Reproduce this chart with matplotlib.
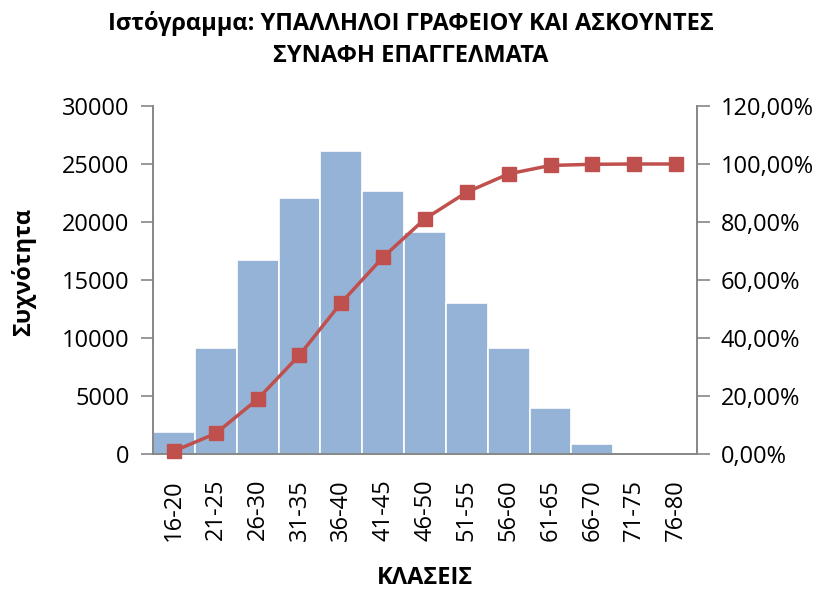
import matplotlib
matplotlib.use("Agg")
import matplotlib.pyplot as plt
from matplotlib.ticker import FuncFormatter

plt.rcParams['font.family'] = ['Open Sans', 'DejaVu Sans']

# data
classes = ['16-20', '21-25', '26-30', '31-35', '36-40', '41-45', '46-50',
           '51-55', '56-60', '61-65', '66-70', '71-75', '76-80']
frequency = [1920, 9180, 16700, 22090, 26080, 22660, 19130,
             13050, 9180, 3930, 830, 0, 0]
cumulative_pct = [1.0, 7.1, 18.9, 34.1, 52.2, 67.9, 81.1,
                  90.3, 96.6, 99.5, 99.9, 100.0, 100.0]

title_lines = ['Ιστόγραμμα: ΥΠΑΛΛΗΛΟΙ ΓΡΑΦΕΙΟΥ ΚΑΙ ΑΣΚΟΥΝΤΕΣ',
               'ΣΥΝΑΦΗ ΕΠΑΓΓΕΛΜΑΤΑ']

W, H = 822, 590
fig = plt.figure(figsize=(W / 100, H / 100), dpi=100)
ax = fig.add_axes([153 / W, (H - 454) / H, (697 - 153) / W, (454 - 106) / H])

grey = '#868686'
fs = 17
x = range(len(classes))
ax.bar(x, frequency, width=1.0, color='#95B3D7', edgecolor='white', linewidth=1.2, zorder=2)
ax.set_xlim(-0.5, len(classes) - 0.5)
ax.set_ylim(0, 30000)
ax.set_yticks(range(0, 30001, 5000))
ax.set_xticks(list(x))
ax.set_xticklabels(classes, rotation=90, fontsize=fs)
ax.tick_params(axis='x', length=0, pad=18)
ax.tick_params(axis='y', direction='out', length=9, width=1.2, color=grey, labelsize=fs, pad=8)

ax2 = ax.twinx()
ax2.plot(x, cumulative_pct, color='#C0504D', linewidth=2.5, marker='s',
         markersize=10, markeredgecolor='#C0504D', zorder=3, clip_on=False)
ax2.set_ylim(0, 120)
ax2.set_yticks(range(0, 121, 20))
ax2.yaxis.set_major_formatter(FuncFormatter(lambda v, p: f'{v:.2f}%'.replace('.', ',')))
ax2.tick_params(axis='y', direction='out', length=9, width=1.2, color=grey, labelsize=fs, pad=8)

for a in (ax, ax2):
    a.spines['top'].set_visible(False)
    for s in ('left', 'right', 'bottom'):
        a.spines[s].set_color(grey)
        a.spines[s].set_linewidth(1.2)

fig.text(411 / W, 1 - 23 / H, title_lines[0], ha='center', va='center',
         fontsize=17, fontweight='bold')
fig.text(411 / W, 1 - 56 / H, title_lines[1], ha='center', va='center',
         fontsize=17, fontweight='bold')
fig.text(24 / W, 1 - 272 / H, 'Συχνότητα', rotation=90, ha='center', va='center',
         fontsize=17, fontweight='bold')
fig.text(425 / W, 1 - 578 / H, 'ΚΛΑΣΕΙΣ', ha='center', va='center',
         fontsize=17, fontweight='bold')

fig.savefig('out.png', dpi=100)
